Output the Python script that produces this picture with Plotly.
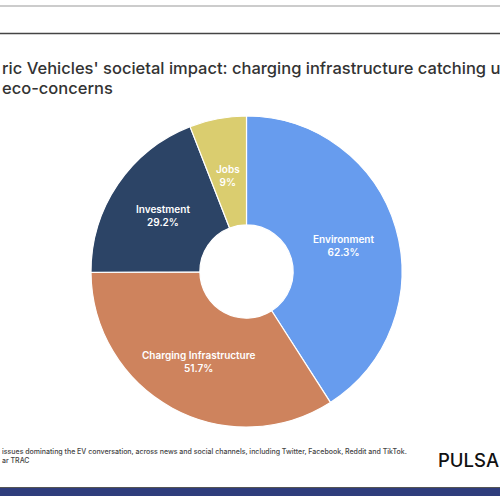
import plotly.graph_objects as go

labels = ["Environment", "Charging Infrastructure", "Investment", "Jobs"]
values = [62.3, 51.7, 29.2, 9]
colors = ["#679cee", "#ce835d", "#2c4466", "#dacd6f"]

title_line1 = "ric Vehicles' societal impact: charging infrastructure catching u"
title_line2 = "eco-concerns"
footer_line1 = "issues dominating the EV conversation, across news and social channels, including Twitter, Facebook, Reddit and TikTok."
footer_line2 = "ar TRAC"
brand = "PULSA"

W, H = 500, 500
FONT = "Inter, Roboto, sans-serif"

def px(x):
    return x / W

def py(y):
    return 1 - y / H

fig = go.Figure(go.Pie(
    labels=labels,
    values=values,
    marker=dict(colors=colors, line=dict(color="white", width=1.2)),
    hole=0.3,
    sort=False,
    direction="clockwise",
    rotation=0,
    textinfo="none",
    domain=dict(x=[px(91), px(402)], y=[py(427), py(116)]),
    showlegend=False,
    hoverinfo="label+value",
))

# slice label placement (pixel centres)
label_pos = [(343, 245), (198, 361), (163, 216), (228, 175)]

annotations = []
for (lx, ly), lab, val in zip(label_pos, labels, values):
    annotations.append(dict(
        text=f"{lab}<br>{val:g}%", x=px(lx), y=py(ly), xanchor="center", yanchor="middle",
        font=dict(family=FONT, size=10, color="white", weight=600)))

annotations += [
    dict(text=title_line1, x=px(0), y=py(68), xanchor="left", yanchor="middle",
         font=dict(family=FONT, size=16.5, color="#333333", weight=500)),
    dict(text=title_line2, x=px(0), y=py(88), xanchor="left", yanchor="middle",
         font=dict(family=FONT, size=16.5, color="#333333", weight=500)),
    dict(text=footer_line1, x=px(0), y=py(451), xanchor="left", yanchor="middle",
         font=dict(family=FONT, size=7, color="#444444", weight=500)),
    dict(text=footer_line2, x=px(0), y=py(460), xanchor="left", yanchor="middle",
         font=dict(family=FONT, size=7, color="#444444", weight=500)),
    dict(text=brand, x=px(436), y=py(460), xanchor="left", yanchor="middle",
         font=dict(family=FONT, size=18.5, color="#111111", weight=500)),
]
for a in annotations:
    a.update(xref="paper", yref="paper", showarrow=False)

shapes = [
    dict(type="line", x0=0, x1=1, y0=py(6), y1=py(6), line=dict(color="#9a9a9a", width=1.2)),
    dict(type="line", x0=0, x1=1, y0=py(33.5), y1=py(33.5), line=dict(color="#444444", width=1.5)),
    dict(type="line", x0=0, x1=1, y0=py(487.5), y1=py(487.5), line=dict(color="#555555", width=1)),
    dict(type="rect", x0=0, x1=1, y0=py(496), y1=py(488), line=dict(width=0), fillcolor="#2f3d7c"),
]
for s in shapes:
    s.update(xref="paper", yref="paper")

fig.update_layout(
    width=W, height=H,
    margin=dict(l=0, r=0, t=0, b=0),
    paper_bgcolor="white",
    plot_bgcolor="white",
    annotations=annotations,
    shapes=shapes,
)

fig.write_html("out.html", config={"displayModeBar": False},
               post_script="document.body.style.margin='0';document.body.style.overflow='hidden';")
